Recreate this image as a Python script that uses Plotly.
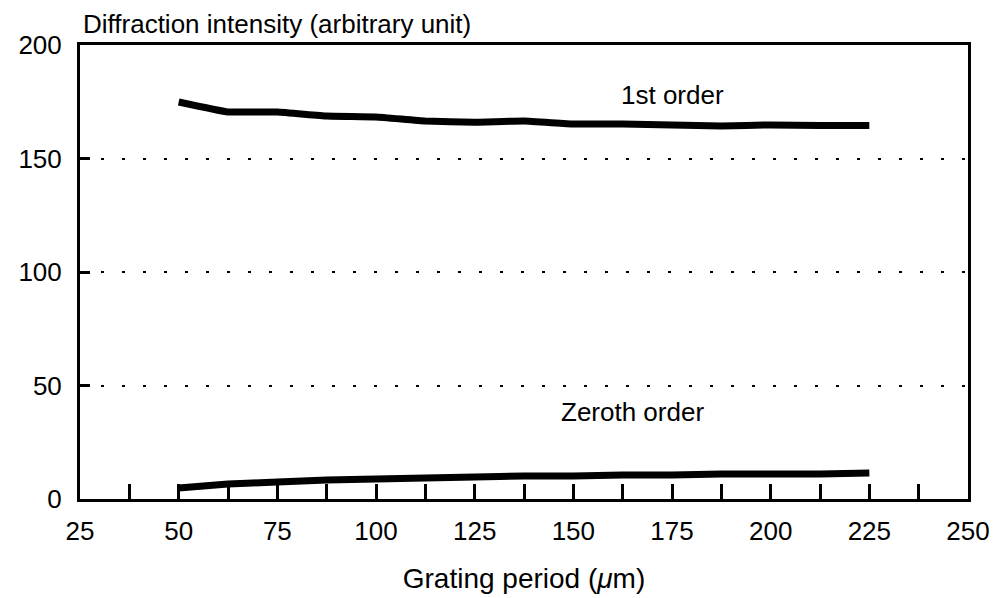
import plotly.graph_objects as go

period = [50, 62.5, 75, 87.5, 100, 112.5, 125, 137.5, 150, 162.5, 175, 187.5, 200, 212.5, 225]
first_order = [174.9, 170.5, 170.5, 168.7, 168.3, 166.5, 166.0, 166.5, 165.2, 165.2, 164.8, 164.3, 164.8, 164.5, 164.5]
zeroth_order = [4.8, 6.6, 7.5, 8.4, 8.8, 9.3, 9.7, 10.1, 10.1, 10.6, 10.6, 11.0, 11.0, 11.0, 11.5]

x_tickvals = [25 + 12.5 * i for i in range(19)]
x_ticktext = [str(int(v)) if v % 25 == 0 else "" for v in x_tickvals]
y_tickvals = [0, 50, 100, 150, 200]

font = "Liberation Sans, Arial, Helvetica, sans-serif"
fs = 26

fig = go.Figure()
fig.add_trace(go.Scatter(x=period, y=first_order, mode="lines",
                         line=dict(color="black", width=7, shape="spline", smoothing=0.3),
                         showlegend=False, hoverinfo="skip"))
fig.add_trace(go.Scatter(x=period, y=zeroth_order, mode="lines",
                         line=dict(color="black", width=7, shape="spline", smoothing=0.3),
                         showlegend=False, hoverinfo="skip"))

fig.add_annotation(x=175, y=178, text="1st order", showarrow=False,
                   font=dict(family=font, size=fs, color="black"), xanchor="center", yanchor="middle")
fig.add_annotation(x=165.1, y=38.3, text="Zeroth order", showarrow=False,
                   font=dict(family=font, size=fs, color="black"), xanchor="center", yanchor="middle")
fig.add_annotation(xref="paper", yref="paper", x=0, y=1, xshift=1, yshift=4,
                   text="Diffraction intensity (arbitrary unit)", showarrow=False,
                   font=dict(family=font, size=fs, color="black"), xanchor="left", yanchor="bottom")

fig.update_layout(
    width=995, height=598,
    margin=dict(l=80, r=27, t=45, b=99, autoexpand=False),
    paper_bgcolor="white", plot_bgcolor="white",
    font=dict(family=font, size=fs, color="black"),
    xaxis=dict(range=[25, 250], tickmode="array", tickvals=x_tickvals, ticktext=x_ticktext,
               ticks="inside", ticklen=15, tickwidth=3, tickcolor="black",
               showline=True, linecolor="black", linewidth=3, mirror=True,
               showgrid=False, zeroline=False, ticklabelstandoff=7, automargin=False,
               title=dict(text="Grating period (<i>μ</i>m)", standoff=24,
                          font=dict(family=font, size=28))),
    yaxis=dict(range=[0, 200], tickmode="array", tickvals=y_tickvals,
               ticks="inside", ticklen=10, tickwidth=3, tickcolor="black",
               showline=True, linecolor="black", linewidth=3, mirror=True,
               showgrid=True, gridcolor="black", gridwidth=1.5, griddash="3px,18px",
               zeroline=False, ticklabelstandoff=10, automargin=False),
)

fig.write_html("out.html", config={"displayModeBar": False},
               post_script="document.body.style.margin='0';document.body.style.overflow='hidden';")
